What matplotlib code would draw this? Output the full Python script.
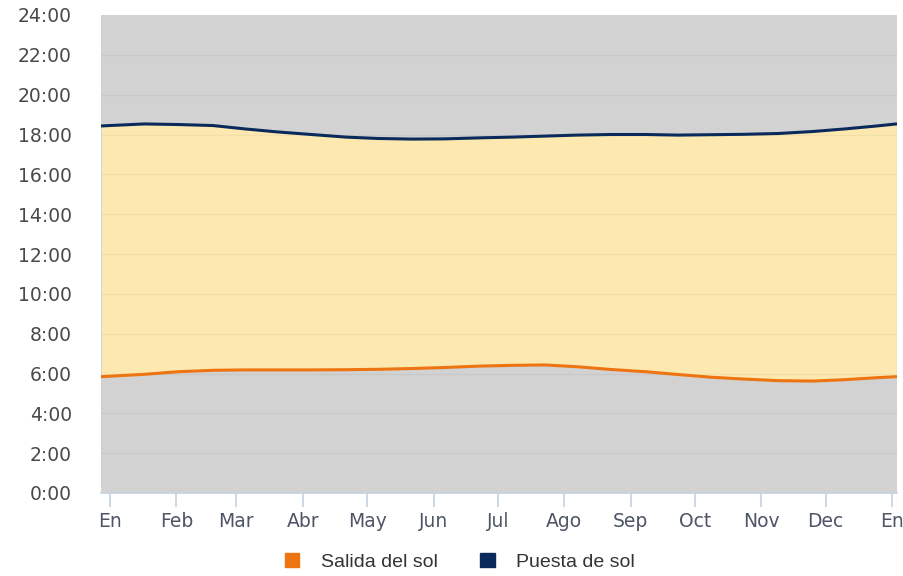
import matplotlib
matplotlib.use("Agg")
import matplotlib.pyplot as plt
from matplotlib.patches import Patch

# day of year, with sunrise / sunset in decimal hours
days = [-4, 16, 32, 48, 63, 78, 94, 110, 125, 141, 156, 172, 188,
        203, 218, 234, 250, 265, 281, 296, 312, 328, 343, 358, 367]
sunrise = [5.84, 5.96, 6.09, 6.16, 6.18, 6.18, 6.18, 6.19, 6.21, 6.25, 6.30, 6.37, 6.41,
           6.43, 6.34, 6.20, 6.09, 5.95, 5.81, 5.72, 5.64, 5.62, 5.69, 5.79, 5.84]
sunset = [18.43, 18.53, 18.50, 18.45, 18.28, 18.13, 18.00, 17.87, 17.80, 17.77, 17.78, 17.83, 17.87,
          17.92, 17.97, 18.00, 18.00, 17.97, 17.99, 18.01, 18.05, 18.15, 18.28, 18.43, 18.53]

month_days = [0, 31, 59, 90, 120, 151, 181, 212, 243, 273, 304, 334, 365]
month_labels = ["En", "Feb", "Mar", "Abr", "May", "Jun", "Jul", "Ago",
                "Sep", "Oct", "Nov", "Dec", "En"]
hour_ticks = list(range(0, 25, 2))

gray = "#d2d2d2"
yellow = "#fde9b0"
orange = "#ee7411"
navy = "#0b2a5c"

fig = plt.figure(figsize=(9.04, 5.76), dpi=100)
ax = fig.add_axes([101 / 904, 83 / 576, 796 / 904, 478 / 576])
ax.set_facecolor(gray)

ax.fill_between(days, sunrise, sunset, color=yellow, lw=0, zorder=1)
for h in hour_ticks[1:-1]:
    ax.axhline(h, color="black", alpha=0.04, lw=1, zorder=2)
ax.plot(days, sunrise, color=orange, lw=2.2, zorder=3, solid_capstyle="round")
ax.plot(days, sunset, color=navy, lw=2.2, zorder=3, solid_capstyle="round")

ax.set_xlim(-4.2, 367.3)
ax.set_ylim(0, 24)
ax.set_yticks(hour_ticks)
ax.set_yticklabels([f"{h}:00" for h in hour_ticks])
ax.set_xticks(month_days)
ax.set_xticklabels(month_labels)

for side in ["top", "right", "left"]:
    ax.spines[side].set_visible(False)
ax.spines["bottom"].set_color("#c5d2e0")
ax.spines["bottom"].set_linewidth(1.2)

ax.tick_params(axis="y", length=0, pad=21, labelsize=13.5, labelcolor="#4a4a4a")
ax.tick_params(axis="x", length=10, width=1.2, color="#c5d2e0", pad=4,
               labelsize=13.5, labelcolor="#4d5566")

handles = [Patch(color=orange), Patch(color=navy)]
fig.legend(handles, ["Salida del sol", "Puesta de sol"], loc="center",
           bbox_to_anchor=(460 / 904, 14 / 576), ncol=2, frameon=False,
           handlelength=0.75, handleheight=0.75, handletextpad=1.1,
           columnspacing=2.2, prop={"family": "Liberation Sans", "size": 14})
for t in fig.legends[0].get_texts():
    t.set_color("#333333")

fig.savefig("out.png", dpi=100)
